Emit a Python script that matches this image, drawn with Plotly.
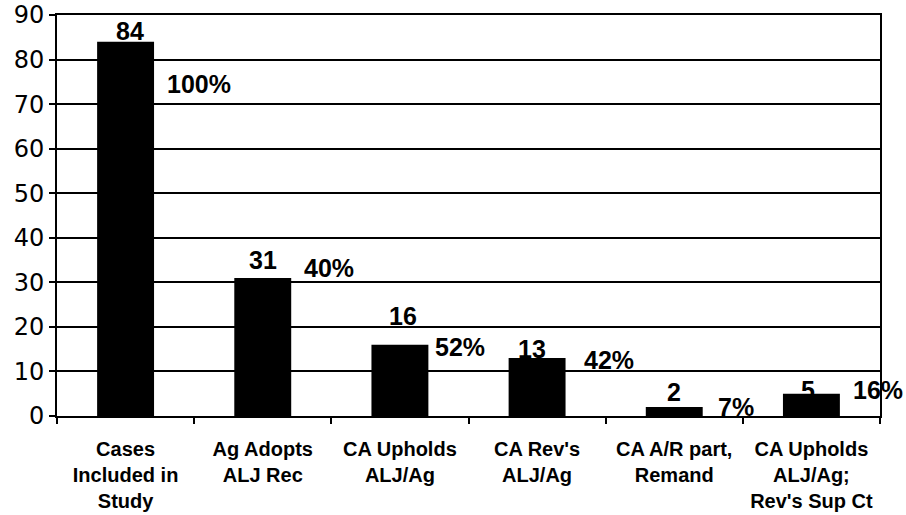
import plotly.graph_objects as go

# Case outcomes: counts per stage and the share carried from the prior stage
categories = [
    "Cases<br>Included in<br>Study",
    "Ag Adopts<br>ALJ Rec",
    "CA Upholds<br>ALJ/Ag",
    "CA Rev's<br>ALJ/Ag",
    "CA A/R part,<br>Remand",
    "CA Upholds<br>ALJ/Ag;<br>Rev's Sup Ct",
]
counts = [84, 31, 16, 13, 2, 5]
percent_labels = ["100%", "40%", "52%", "42%", "7%", "16%"]
y_ticks = [0, 10, 20, 30, 40, 50, 60, 70, 80, 90]

# Label placement (pixel offsets from each bar's top centre)
count_xshift = [4, 0, 3, -5, 0, -3]
count_yshift = [11, 18, 29, 9, 15, 4]
pct_xshift = [39, 39, 33, 45, 42, 40]
pct_yshift = [-42, 10, -2, -2, 0, 4]

BOLD = "Liberation Sans, Arial, sans-serif"

fig = go.Figure(
    go.Bar(
        x=categories,
        y=counts,
        marker=dict(color="black", line=dict(width=0)),
        hoverinfo="skip",
    )
)

annotations = []
for i, (cat, val) in enumerate(zip(categories, counts)):
    annotations.append(dict(
        x=cat, y=val, xref="x", yref="y", text=f"<b>{val}</b>",
        showarrow=False, xanchor="center", yanchor="middle",
        xshift=count_xshift[i], yshift=count_yshift[i],
        font=dict(family=BOLD, size=25, color="black"),
    ))
    annotations.append(dict(
        x=cat, y=val, xref="x", yref="y", text=f"<b>{percent_labels[i]}</b>",
        showarrow=False, xanchor="left", yanchor="middle",
        xshift=pct_xshift[i], yshift=pct_yshift[i],
        font=dict(family=BOLD, size=25, color="black"),
    ))

fig.update_layout(
    width=906,
    height=515,
    margin=dict(l=57, r=26, t=15, b=99, pad=0, autoexpand=False),
    paper_bgcolor="white",
    plot_bgcolor="white",
    showlegend=False,
    bargap=0.585,
    annotations=annotations,
    xaxis=dict(
        type="category",
        range=[-0.5, len(categories) - 0.5],
        automargin=False,
        tickson="boundaries",
        ticks="outside",
        ticklen=6,
        tickwidth=1.5,
        tickcolor="black",
        ticklabelstandoff=14,
        showline=True,
        linecolor="black",
        linewidth=2,
        mirror=True,
        showgrid=False,
        tickfont=dict(family=BOLD, size=20, color="black", weight="bold"),
    ),
    yaxis=dict(
        range=[0, 90],
        automargin=False,
        tickvals=y_ticks,
        ticks="outside",
        ticklen=6,
        tickwidth=1.5,
        tickcolor="black",
        showline=True,
        linecolor="black",
        linewidth=2,
        mirror=True,
        showgrid=True,
        gridcolor="black",
        gridwidth=1.5,
        zeroline=False,
        tickfont=dict(family="DejaVu Sans, sans-serif", size=24, color="black"),
    ),
)

fig.write_html("out.html")
